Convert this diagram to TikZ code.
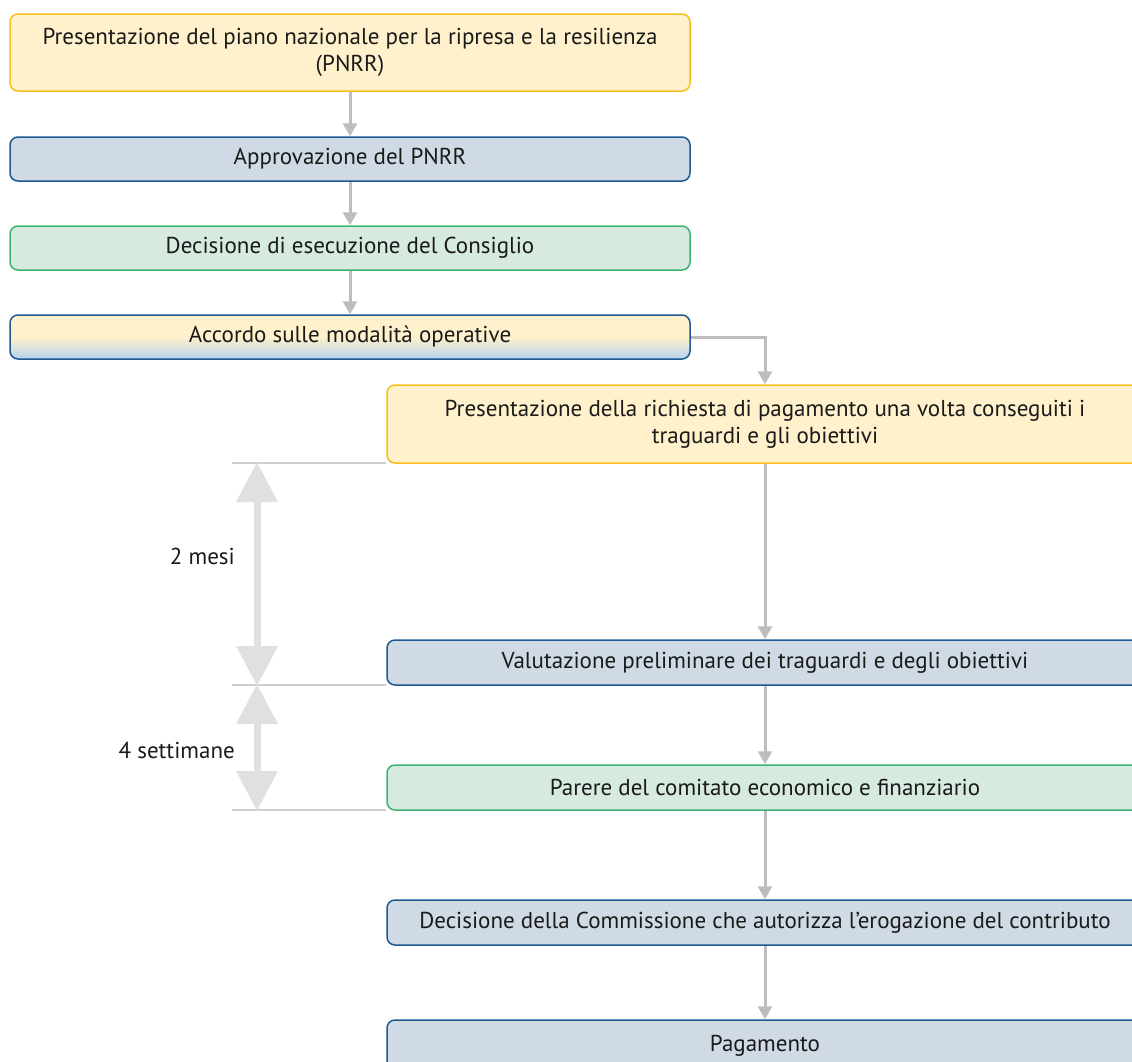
\documentclass[tikz,border=0pt]{standalone}
\usepackage{fontspec}
\setmainfont{PT Sans}
\usetikzlibrary{arrows.meta}
\definecolor{ylfill}{HTML}{FFF1CC}
\definecolor{ylline}{HTML}{F9BE1E}
\definecolor{blfill}{HTML}{CFDAE5}
\definecolor{blline}{HTML}{1D5A94}
\definecolor{grfill}{HTML}{D6EADF}
\definecolor{grline}{HTML}{3CB371}
\definecolor{gradbot}{HTML}{B4D2EE}
\definecolor{conn}{HTML}{BDBDBD}
\definecolor{span}{HTML}{E0E0E0}
\definecolor{guide}{HTML}{CFCFCF}
\definecolor{txt}{HTML}{1A1A1A}
\tikzset{
  box/.style={draw, line width=1.5pt, rounded corners=8pt, inner sep=0pt, align=center,
    text=txt, font=\fontsize{23}{27}\selectfont},
  yl/.style={box, fill=ylfill, draw=ylline},
  bl/.style={box, fill=blfill, draw=blline},
  gr/.style={box, fill=grfill, draw=grline},
  mix/.style={box, draw=blline, top color=ylfill, bottom color=gradbot, middle color=ylfill},
  flow/.style={draw=conn, line width=3pt, -{Triangle[width=14pt,length=13pt]}},
  spanarrow/.style={draw=span, line width=7pt, {Triangle[width=40pt,length=40pt]}-{Triangle[width=40pt,length=40pt]}, shorten <=-1pt, shorten >=-1pt},
  guideline/.style={draw=guide, line width=1.2pt},
  lbl/.style={text=txt, font=\fontsize{23}{27}\selectfont, anchor=east, inner sep=0pt}
}
\begin{document}
\begin{tikzpicture}[x=1pt,y=-1pt]
\useasboundingbox (0,0) rectangle (1132,1061);
\clip (0,0) rectangle (1132,1061);
% left column
\node[yl, minimum width=680pt, minimum height=77pt] (b1) at (350,52.5)
  {Presentazione del piano nazionale per la ripresa e la resilienza\\(PNRR)};
\node[bl, minimum width=680pt, minimum height=44pt] (b2) at (350,159)
  {Approvazione del PNRR};
\node[gr, minimum width=680pt, minimum height=44pt] (b3) at (350,248)
  {Decisione di esecuzione del Consiglio};
\node[mix, minimum width=680pt, minimum height=44pt] (b4) at (350,337)
  {Accordo sulle modalità operative};
% right column
\node[yl, minimum width=756pt, minimum height=78pt] (b5) at (765,424)
  {Presentazione della richiesta di pagamento una volta conseguiti i\\traguardi e gli obiettivi};
\node[bl, minimum width=756pt, minimum height=45pt] (b6) at (765,662.5)
  {Valutazione preliminare dei traguardi e degli obiettivi};
\node[gr, minimum width=756pt, minimum height=45pt] (b7) at (765,787.5)
  {Parere del comitato economico e finanziario};
\node[bl, minimum width=756pt, minimum height=58pt] (b9) at (765,1049)
  {\raisebox{12pt}{Pagamento}};
\node[bl, minimum width=756pt, minimum height=45pt] (b8) at (765,922.5)
  {Decisione della Commissione che autorizza l’erogazione del contributo};
% connectors
\draw[flow] (b1) -- (b2);
\draw[flow] (b2) -- (b3);
\draw[flow] (b3) -- (b4);
\draw[flow] (b4.east) -| (b5.north);
\draw[flow] (b5) -- (b6);
\draw[flow] (b6) -- (b7);
\draw[flow] (b7) -- (b8);
\draw[flow] (b8) -- (b9);
% guide lines
\coordinate (g1) at (232,463);
\coordinate (g2) at (232,685);
\coordinate (g3) at (232,810);
\draw[guideline] (g1) -- (b5.south west |- g1);
\draw[guideline] (g2) -- (b6.south west |- g2);
\draw[guideline] (g3) -- (b7.south west |- g3);
\coordinate (s1) at (257,463);
\coordinate (s2) at (257,685);
\coordinate (s3) at (257,810);
\draw[spanarrow] (s1) -- (s2);
\draw[spanarrow] (s2) -- (s3);
\node[lbl] (l1) at (235,556) {2 mesi};
\node[lbl] (l2) at (235,750) {4 settimane};
\end{tikzpicture}
\end{document}
